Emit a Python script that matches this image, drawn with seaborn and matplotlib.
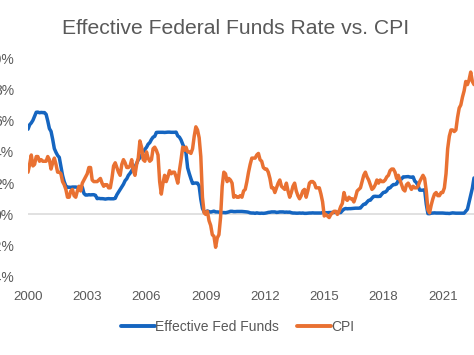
import numpy as np
import pandas as pd
import matplotlib
matplotlib.use("Agg")
import matplotlib.pyplot as plt
import seaborn as sns

# Monthly values, Jan 2000 .. Aug 2022 (percent)
fed_funds = [
    5.45, 5.73, 5.85, 6.02, 6.27, 6.53, 6.54, 6.50, 6.52, 6.51, 6.51, 6.40,  # 2000
    5.98, 5.49, 5.31, 4.80, 4.21, 3.97, 3.77, 3.65, 3.07, 2.49, 2.09, 1.82,  # 2001
    1.73, 1.74, 1.73, 1.75, 1.75, 1.75, 1.73, 1.74, 1.75, 1.75, 1.34, 1.24,  # 2002
    1.24, 1.26, 1.25, 1.26, 1.26, 1.22, 1.01, 1.03, 1.01, 1.01, 1.00, 0.98,  # 2003
    1.00, 1.01, 1.00, 1.00, 1.00, 1.03, 1.26, 1.43, 1.61, 1.76, 1.93, 2.16,  # 2004
    2.28, 2.50, 2.63, 2.79, 3.00, 3.04, 3.26, 3.50, 3.62, 3.78, 4.00, 4.16,  # 2005
    4.29, 4.49, 4.59, 4.79, 4.94, 4.99, 5.24, 5.25, 5.25, 5.25, 5.25, 5.24,  # 2006
    5.25, 5.26, 5.26, 5.25, 5.25, 5.25, 5.26, 5.02, 4.94, 4.76, 4.49, 4.24,  # 2007
    3.94, 2.98, 2.61, 2.28, 1.98, 2.00, 2.01, 2.00, 1.81, 0.97, 0.39, 0.16,  # 2008
    0.15, 0.22, 0.18, 0.15, 0.18, 0.21, 0.16, 0.16, 0.15, 0.12, 0.12, 0.12,  # 2009
    0.11, 0.13, 0.16, 0.20, 0.20, 0.18, 0.18, 0.19, 0.19, 0.19, 0.19, 0.18,  # 2010
    0.17, 0.16, 0.14, 0.10, 0.09, 0.09, 0.07, 0.10, 0.08, 0.07, 0.08, 0.07,  # 2011
    0.08, 0.10, 0.13, 0.14, 0.16, 0.16, 0.16, 0.13, 0.14, 0.16, 0.16, 0.16,  # 2012
    0.14, 0.15, 0.14, 0.15, 0.11, 0.09, 0.09, 0.08, 0.08, 0.09, 0.08, 0.09,  # 2013
    0.07, 0.07, 0.08, 0.09, 0.09, 0.10, 0.09, 0.09, 0.09, 0.09, 0.09, 0.12,  # 2014
    0.11, 0.11, 0.11, 0.12, 0.12, 0.13, 0.13, 0.14, 0.14, 0.12, 0.12, 0.24,  # 2015
    0.34, 0.38, 0.36, 0.37, 0.37, 0.38, 0.39, 0.40, 0.40, 0.40, 0.41, 0.54,  # 2016
    0.65, 0.66, 0.79, 0.90, 0.91, 1.04, 1.15, 1.16, 1.15, 1.15, 1.16, 1.30,  # 2017
    1.41, 1.42, 1.51, 1.69, 1.70, 1.82, 1.91, 1.91, 1.95, 2.19, 2.20, 2.27,  # 2018
    2.40, 2.40, 2.41, 2.42, 2.39, 2.38, 2.40, 2.13, 2.04, 1.83, 1.55, 1.55,  # 2019
    1.55, 1.58, 0.65, 0.05, 0.05, 0.08, 0.09, 0.10, 0.09, 0.09, 0.09, 0.09,  # 2020
    0.09, 0.08, 0.07, 0.07, 0.06, 0.08, 0.10, 0.09, 0.08, 0.08, 0.08, 0.08,  # 2021
    0.08, 0.08, 0.20, 0.33, 0.77, 1.21, 1.68, 2.33,                          # 2022
]

cpi = [
    2.7, 3.2, 3.8, 3.1, 3.2, 3.7, 3.7, 3.4, 3.5, 3.4, 3.4, 3.4,   # 2000
    3.7, 3.5, 2.9, 3.3, 3.6, 3.2, 2.7, 2.7, 2.6, 2.1, 1.9, 1.6,   # 2001
    1.1, 1.1, 1.5, 1.6, 1.2, 1.1, 1.5, 1.8, 1.5, 2.0, 2.2, 2.4,   # 2002
    2.6, 3.0, 3.0, 2.2, 2.1, 2.1, 2.1, 2.2, 2.3, 2.0, 1.8, 1.9,   # 2003
    1.9, 1.7, 1.7, 2.3, 3.1, 3.3, 3.0, 2.7, 2.5, 3.2, 3.5, 3.3,   # 2004
    3.0, 3.0, 3.1, 3.5, 2.8, 2.5, 3.2, 3.6, 4.7, 4.3, 3.5, 3.4,   # 2005
    4.0, 3.6, 3.4, 3.5, 4.2, 4.3, 4.1, 3.8, 2.1, 1.3, 2.0, 2.5,   # 2006
    2.1, 2.4, 2.8, 2.6, 2.7, 2.7, 2.4, 2.0, 2.8, 3.5, 4.3, 4.1,   # 2007
    4.3, 4.0, 4.0, 3.9, 4.2, 5.0, 5.6, 5.4, 4.9, 3.7, 1.1, 0.1,   # 2008
    0.0, 0.2, -0.4, -0.7, -1.3, -1.4, -2.1, -1.5, -1.3, -0.2, 1.8, 2.7,  # 2009
    2.6, 2.1, 2.3, 2.2, 2.0, 1.1, 1.2, 1.1, 1.1, 1.2, 1.1, 1.5,   # 2010
    1.6, 2.1, 2.7, 3.2, 3.6, 3.6, 3.6, 3.8, 3.9, 3.5, 3.4, 3.0,   # 2011
    2.9, 2.9, 2.7, 2.3, 1.7, 1.7, 1.4, 1.7, 2.0, 2.2, 1.8, 1.7,   # 2012
    1.6, 2.0, 1.5, 1.1, 1.4, 1.8, 2.0, 1.5, 1.2, 1.0, 1.2, 1.5,   # 2013
    1.6, 1.1, 1.5, 2.0, 2.1, 2.1, 2.0, 1.7, 1.7, 1.7, 1.3, 0.8,   # 2014
    -0.1, 0.0, -0.1, -0.2, 0.0, 0.1, 0.2, 0.2, 0.0, 0.2, 0.5, 0.7,  # 2015
    1.4, 1.0, 0.9, 1.1, 1.0, 1.0, 0.8, 1.1, 1.5, 1.6, 1.7, 2.1,   # 2016
    2.5, 2.7, 2.4, 2.2, 1.9, 1.6, 1.7, 1.9, 2.2, 2.0, 2.2, 2.1,   # 2017
    2.1, 2.2, 2.4, 2.5, 2.8, 2.9, 2.9, 2.7, 2.3, 2.5, 2.2, 1.9,   # 2018
    1.6, 1.5, 1.9, 2.0, 1.8, 1.6, 1.8, 1.7, 1.7, 1.8, 2.1, 2.3,   # 2019
    2.5, 2.3, 1.5, 0.3, 0.1, 0.6, 1.0, 1.3, 1.4, 1.2, 1.2, 1.4,   # 2020
    1.4, 1.7, 2.6, 4.2, 5.0, 5.4, 5.4, 5.3, 5.4, 6.2, 6.8, 7.0,   # 2021
    7.5, 7.9, 8.5, 8.3, 8.6, 9.1, 8.5, 8.3,                       # 2022
]

start_year = 2000
series_names = ["Effective Fed Funds", "CPI"]
x_tick_years = [2000, 2003, 2006, 2009, 2012, 2015, 2018, 2021]
y_ticks = [-4, -2, 0, 2, 4, 6, 8, 10]
title = "Effective Federal Funds Rate vs. CPI"

months = np.arange(len(cpi))
t = start_year + months / 12.0
df = pd.DataFrame({
    "t": np.concatenate([t, t]),
    "value": np.concatenate([fed_funds, cpi]),
    "series": [series_names[0]] * len(t) + [series_names[1]] * len(t),
})

sns.set_theme(style="white")
plt.rcParams["font.family"] = ["Liberation Sans", "DejaVu Sans"]

W, H = 474, 355
fig = plt.figure(figsize=(W / 100, H / 100), dpi=100)
ax = fig.add_axes([28 / W, (H - 277) / H, (W - 28) / W, 219 / H])

ax.axhline(0, color="#D9D9D9", lw=1.1, zorder=1)
sns.lineplot(data=df, x="t", y="value", hue="series", ax=ax,
             palette=["#1565C0", "#E97132"], linewidth=2.5, legend=True,
             zorder=3)

ax.set_xlim(2000, t[-1])
ax.set_ylim(-4, 10)
ax.set_xticks(x_tick_years)
ax.set_xticklabels([str(y) for y in x_tick_years])
ax.set_yticks(y_ticks)
ax.set_yticklabels([f"{v}%" for v in y_ticks])
ax.tick_params(axis="both", length=0, colors="#595959", labelsize=9.5)
ax.tick_params(axis="y", pad=10, labelsize=10)
ax.tick_params(axis="x", pad=10)
ax.set_xlabel("")
ax.set_ylabel("")
for s in ax.spines.values():
    s.set_visible(False)

leg = ax.legend(loc="center", bbox_to_anchor=(238 / W, 1 - 327 / H),
                bbox_transform=fig.transFigure, ncol=2, frameon=False,
                fontsize=10, handlelength=2.4, handletextpad=0.05,
                columnspacing=1.3)
for txt in leg.get_texts():
    txt.set_color("#595959")
for line in leg.get_lines():
    line.set_linewidth(2.8)

fig.text(236 / W, 1 - 28 / H, title, ha="center", va="center",
         fontsize=15.2, color="#595959")

fig.savefig("out.png", dpi=100, facecolor="white")
